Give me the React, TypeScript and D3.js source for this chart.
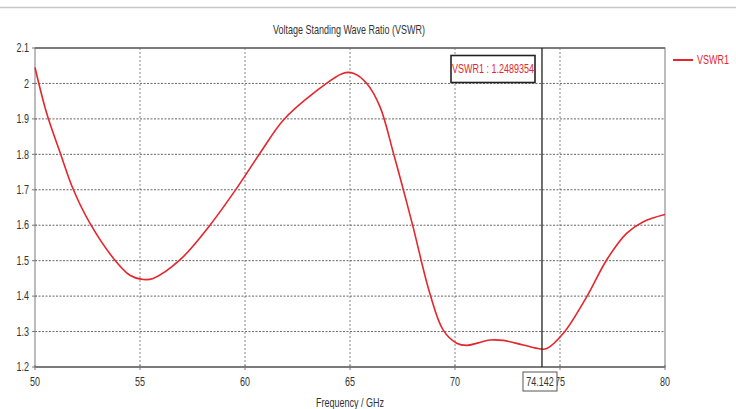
import React from "react";
import * as d3 from "d3";

const freq = [50, 50.56, 51.19, 51.83, 52.62, 53.73, 54.52, 55.16, 55.63, 56.9, 58.33, 59.6, 60.71, 61.83, 63.25, 64.68, 65.16, 65.8, 66.43, 67.06, 67.54, 68.0, 68.8, 69.44, 70.08, 70.56, 71.1, 71.67, 72.3, 73.25, 74.05, 74.37, 75.16, 76.27, 77.22, 78.17, 78.97, 80];
const vswr = [2.045, 1.915, 1.806, 1.70, 1.605, 1.507, 1.459, 1.447, 1.45, 1.502, 1.60, 1.704, 1.803, 1.897, 1.972, 2.029, 2.029, 2.0, 1.934, 1.805, 1.70, 1.596, 1.408, 1.304, 1.267, 1.261, 1.268, 1.276, 1.275, 1.262, 1.251, 1.252, 1.295, 1.398, 1.502, 1.577, 1.61, 1.63];
const xTicks = [50, 55, 60, 65, 70, 75, 80];
const yTicks = [1.2, 1.3, 1.4, 1.5, 1.6, 1.7, 1.8, 1.9, 2.0, 2.1];
const markerX = 74.142;
const markerLabel = "74.142";
const markerValue = "VSWR1 : 1.2489354";
const seriesName = "VSWR1";
const title = "Voltage Standing Wave Ratio (VSWR)";
const xTitle = "Frequency / GHz";

const W = 736, H = 409;
const FONT = "'Liberation Sans', Arial, sans-serif";
const RED = "#e5262c";
const SX = 0.75;

function T(props: { x: number; y: number; anchor?: string; fill?: string; size?: number; children: any }) {
  const { x, y, anchor = "middle", fill = "#333", size = 12, children } = props;
  return (
    <text transform={`translate(${x},${y}) scale(${SX},1)`} textAnchor={anchor as any} dy="0.35em" fontSize={size} fill={fill}>
      {children}
    </text>
  );
}

export default function App() {
  const x = d3.scaleLinear().domain([50, 80]).range([35, 665]);
  const y = d3.scaleLinear().domain([1.2, 2.1]).range([367, 48]);
  const pts = freq.map((f, i) => [f, vswr[i]] as [number, number]);
  const line = d3.line<[number, number]>().x(d => x(d[0])).y(d => y(d[1])).curve(d3.curveCatmullRom.alpha(0.5));
  const mx = x(markerX);
  const fmtY = (v: number) => (Math.abs(v - 2) < 1e-9 ? "2" : d3.format(".1f")(v));
  return (
    <svg width={W} height={H} style={{ position: "absolute", left: 0, top: 0, background: "#fff" }} fontFamily={FONT}>
      <rect x={0} y={0} width={W} height={H} fill="#fff" />
      <line x1={0} x2={W} y1={7.5} y2={7.5} stroke="#c8c8c8" strokeWidth={1.5} />
      <T x={349} y={30}>{title}</T>
      {/* grid */}
      {xTicks.slice(1, -1).map(t => (
        <line key={"gx" + t} x1={x(t)} x2={x(t)} y1={y(2.1)} y2={y(1.2)} stroke="#888" strokeWidth={1} strokeDasharray="2,2" />
      ))}
      {yTicks.slice(1, -1).map(t => (
        <line key={"gy" + t} x1={x(50)} x2={x(80)} y1={y(t)} y2={y(t)} stroke="#666" strokeWidth={1} strokeDasharray="2,1.5" />
      ))}
      {/* frame */}
      <rect x={x(50)} y={y(2.1)} width={x(80) - x(50)} height={y(1.2) - y(2.1)} fill="none" stroke="#999" strokeWidth={1.3} />
      <line x1={x(50)} x2={x(80)} y1={y(1.2)} y2={y(1.2)} stroke="#666" strokeWidth={1.5} />
      <line x1={x(50)} x2={x(80)} y1={y(2.1)} y2={y(2.1)} stroke="#666" strokeWidth={1.5} />
      {yTicks.map(t => (
        <g key={"ty" + t}>
          <line x1={x(50) - 3} x2={x(50) + 2} y1={y(t)} y2={y(t)} stroke="#777" />
          <T x={29} y={y(t)} anchor="end">{fmtY(t)}</T>
        </g>
      ))}
      {xTicks.map(t => (
        <g key={"tx" + t}>
          <line x1={x(t)} x2={x(t)} y1={y(1.2) - 2} y2={y(1.2) + 3} stroke="#777" />
          <T x={x(t)} y={381.5}>{t}</T>
        </g>
      ))}
      <T x={350} y={403}>{xTitle}</T>
      {/* curve */}
      <path d={line(pts) || ""} fill="none" stroke={RED} strokeWidth={1.6} />
      {/* marker */}
      <line x1={mx} x2={mx} y1={y(2.1)} y2={y(1.2)} stroke="#222" strokeWidth={1.3} />
      <rect x={451} y={55.5} width={84} height={27} fill="#fff" stroke="#222" strokeWidth={1.6} />
      <T x={493} y={69} fill={RED}>{markerValue}</T>
      <rect x={mx - 19} y={372} width={34} height={19} fill="#fff" stroke="#555" strokeWidth={1} />
      <T x={mx - 2} y={381.5}>{markerLabel}</T>
      {/* legend */}
      <line x1={673} x2={693} y1={60} y2={60} stroke={RED} strokeWidth={2} />
      <T x={697} y={60} anchor="start" fill={RED}>{seriesName}</T>
    </svg>
  );
}
